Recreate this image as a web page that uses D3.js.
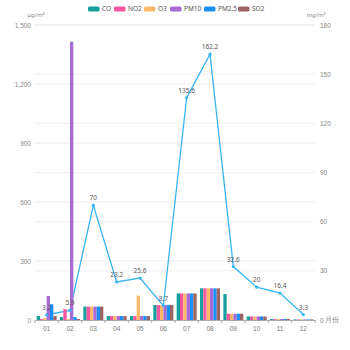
<!DOCTYPE html>
<html><head><meta charset="utf-8">
<script src="https://cdn.jsdelivr.net/npm/d3@7"></script>
<style>body{margin:0;background:#fff;}svg{display:block;font-family:"Noto Sans",sans-serif;}</style>
</head><body><svg id="c" width="350" height="350"></svg>
<script>
const months = ["01","02","03","04","05","06","07","08","09","10","11","12"];
const seriesNames = ["CO","NO2","O3","PM10","PM2.5","SO2"];
const seriesColors = ["#17a09c","#f7579f","#ffb96b","#a66bd6","#1a8ff5","#9c6464"];
const CO   = [20, 15, 68, 20, 20, 76, 135, 161, 132, 18, 5, 3];
const NO2  = [5, 55, 68, 20, 20, 76, 135, 161, 32, 18, 5, 3];
const O3   = [10, 5, 68, 20, 124, 76, 135, 161, 32, 18, 5, 3];
const PM10 = [122, 1415, 68, 20, 20, 76, 135, 161, 32, 18, 5, 3];
const PM25 = [80, 15, 68, 20, 20, 76, 135, 161, 32, 18, 5, 3];
const SO2  = [20, 5, 68, 20, 20, 76, 135, 161, 32, 18, 5, 3];
const lineValues = [3.2, 5.9, 70, 23.2, 25.6, 8.7, 135.6, 162.2, 32.6, 20, 16.4, 3.3];
const leftTicks = [0, 300, 600, 900, 1200, 1500];
const rightTicks = [0, 30, 60, 90, 120, 150, 180];
const lineColor = "#38b4f2";

const allSeries = [CO, NO2, O3, PM10, PM25, SO2];
const svg = d3.select("#c");
const L = 35, R = 315, T = 25, B = 320;

const x = d3.scaleBand().domain(months).range([L, R]).padding(0);
const xi = d3.scaleBand().domain(seriesNames)
  .range([(x.bandwidth()-20)/2, (x.bandwidth()-20)/2 + 20]).padding(0);
const yL = d3.scaleLinear().domain([0, 1500]).range([B, T]);
const yR = d3.scaleLinear().domain([0, 180]).range([B, T]);

// grid lines
svg.append("g").selectAll("line").data(rightTicks.slice(1)).join("line")
  .attr("x1", L).attr("x2", R).attr("y1", d => yR(d)).attr("y2", d => yR(d))
  .attr("stroke", "#f0f0f6").attr("stroke-width", 1);
svg.append("g").selectAll("line").data(leftTicks.slice(1)).join("line")
  .attr("x1", L).attr("x2", R).attr("y1", d => yL(d)).attr("y2", d => yL(d))
  .attr("stroke", "#ececec").attr("stroke-width", 1);

// axes
const axL = svg.append("g").attr("transform", `translate(${L},0)`)
  .call(d3.axisLeft(yL).tickValues(leftTicks).tickFormat(d3.format(",")).tickSize(0).tickPadding(4));
axL.select(".domain").remove();
axL.selectAll("text").attr("fill", "#888").attr("font-size", 6.5);

const axR = svg.append("g").attr("transform", `translate(${R},0)`)
  .call(d3.axisRight(yR).tickValues(rightTicks).tickSize(0).tickPadding(5));
axR.select(".domain").remove();
axR.selectAll("text").attr("fill", "#888").attr("font-size", 6.5);

const axB = svg.append("g").attr("transform", `translate(0,${B})`)
  .call(d3.axisBottom(x).tickSize(0).tickPadding(6));
axB.select(".domain").attr("stroke", "#aaa");
axB.selectAll("text").attr("fill", "#777").attr("font-size", 6.5);
// boundary ticks
svg.append("g").selectAll("line").data(months.concat(["end"])).join("line")
  .attr("x1", (d, i) => L + i * x.step()).attr("x2", (d, i) => L + i * x.step())
  .attr("y1", B).attr("y2", B + 3).attr("stroke", "#aaa");

// unit labels
svg.append("text").attr("x", 36).attr("y", 17).attr("text-anchor", "middle").attr("font-size", 6).attr("fill", "#888").text("μg/m³");
svg.append("text").attr("x", 316).attr("y", 17).attr("text-anchor", "middle").attr("font-size", 6).attr("fill", "#888").text("mg/m³");
svg.append("text").attr("x", 324.5).attr("y", B + 2.2).attr("font-size", 6.5).attr("fill", "#888").text("月份");

// line (drawn before bars)
const line = d3.line().x((d, i) => x(months[i]) + x.bandwidth()/2).y(d => yR(d));
svg.append("path").datum(lineValues).attr("d", line).attr("fill", "none").attr("stroke", lineColor).attr("stroke-width", 1.3);

// bars
allSeries.forEach((vals, si) => {
  svg.append("g").selectAll("rect").data(vals).join("rect")
    .attr("x", (d, i) => x(months[i]) + xi(seriesNames[si]))
    .attr("width", xi.bandwidth())
    .attr("y", d => yL(d))
    .attr("height", d => B - yL(d))
    .attr("fill", seriesColors[si]);
});

// points and labels on top
svg.append("g").selectAll("circle").data(lineValues).join("circle")
  .attr("cx", (d, i) => x(months[i]) + x.bandwidth()/2).attr("cy", d => yR(d)).attr("r", 1.6)
  .attr("fill", lineColor);
svg.append("g").selectAll("text").data(lineValues).join("text")
  .attr("x", (d, i) => x(months[i]) + x.bandwidth()/2).attr("y", d => yR(d) - 5)
  .attr("text-anchor", "middle").attr("font-size", 6.5).attr("fill", "#555").text(d => d);

// legend
const legendX = [88, 114, 144, 170, 204, 238];
const lg = svg.append("g");
seriesNames.forEach((n, i) => {
  lg.append("rect").attr("x", legendX[i]).attr("y", 6.5).attr("width", 11.5).attr("height", 5).attr("rx", 1.5).attr("fill", seriesColors[i]);
  lg.append("text").attr("x", legendX[i] + 14).attr("y", 11.3).attr("font-size", 6.5).attr("fill", "#555").text(n);
});
</script></body></html>
